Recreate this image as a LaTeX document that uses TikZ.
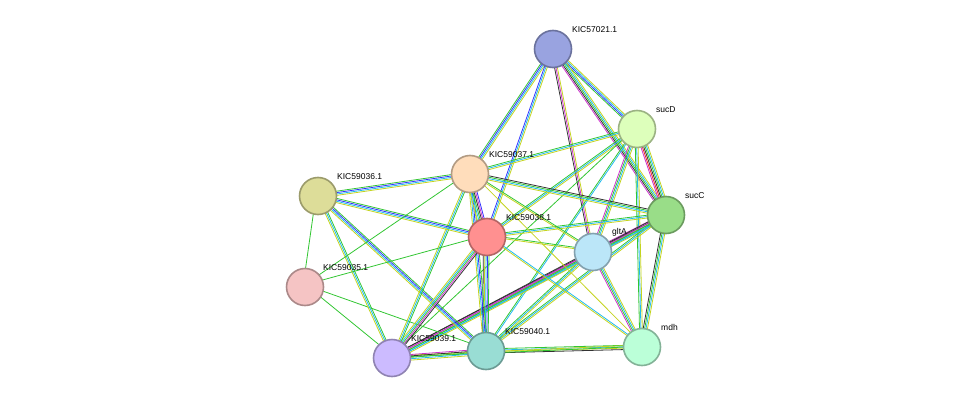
\documentclass[tikz,border=0pt]{standalone}
\usepackage{fontspec}
\setmainfont{Liberation Sans}
\usetikzlibrary{calc,backgrounds}
\definecolor{cgrn}{HTML}{33C633}
\definecolor{cblu}{HTML}{3333FF}
\definecolor{ccyn}{HTML}{22BBEE}
\definecolor{cyel}{HTML}{C4D420}
\definecolor{cpur}{HTML}{CC33CC}
\definecolor{cblk}{HTML}{333333}
\definecolor{cred}{HTML}{EE2222}
\tikzset{
  prot/.style={circle,draw=#1!70!black,line width=1.6pt,minimum size=37pt,inner sep=0pt},
  lbl/.style={font=\fontsize{8.5}{10}\selectfont,anchor=south west,inner sep=1pt}
}
% one link = several parallel coloured lines
\newcommand\lnk[3]{%
  \foreach \col [count=\k] in {#3} {
    \pgfmathsetmacro\off{(\k-2.5)*1.4}
    \draw[color=\col,line width=0.8pt] ($(#1)!\off pt!90:(#2)$) -- ($(#2)!\off pt!-90:(#1)$);
  }}
\begin{document}
\begin{tikzpicture}[x=1pt,y=-1pt]
  \useasboundingbox (0,0) rectangle (976,404);
  \definecolor{nA}{HTML}{99A3E0}\definecolor{nB}{HTML}{DDFFBB}
  \definecolor{nC}{HTML}{99DD88}\definecolor{nD}{HTML}{BBE6F8}
  \definecolor{nE}{HTML}{BBFFD8}\definecolor{nF}{HTML}{99DDD4}
  \definecolor{nG}{HTML}{CCBBFF}\definecolor{nH}{HTML}{F5C4C4}
  \definecolor{nI}{HTML}{DDDD99}\definecolor{nJ}{HTML}{FFDDBB}
  \definecolor{nK}{HTML}{FF9090}
  \node[prot=nA,fill=nA] (k57021) at (553,49)  {};
  \node[prot=nB,fill=nB] (sucD)   at (637,129) {};
  \node[prot=nC,fill=nC] (sucC)   at (666,215) {};
  \node[prot=nD,fill=nD] (gltA)   at (593,252) {};
  \node[prot=nE,fill=nE] (mdh)    at (642,347) {};
  \node[prot=nF,fill=nF] (k59040) at (486,351) {};
  \node[prot=nG,fill=nG] (k59039) at (392,358) {};
  \node[prot=nH,fill=nH] (k59035) at (305,287) {};
  \node[prot=nI,fill=nI] (k59036) at (318,196) {};
  \node[prot=nJ,fill=nJ] (k59037) at (470,174) {};
  \node[prot=nK,fill=nK] (k59038) at (487,237) {};
  % labels
  \node[lbl] at (571,34)  {KIC57021.1};
  \node[lbl] at (655,114) {sucD};
  \node[lbl] at (684,200) {sucC};
  \node[lbl] at (611,237) {gltA};
  \node[lbl] at (660,332) {mdh};
  \node[lbl] at (504,336) {KIC59040.1};
  \node[lbl] at (410,343) {KIC59039.1};
  \node[lbl] at (322,272) {KIC59035.1};
  \node[lbl] at (336,181) {KIC59036.1};
  \node[lbl] at (488,159) {KIC59037.1};
  \node[lbl] at (505,222) {KIC59038.1};
  \begin{scope}[on background layer]
    \lnk{k57021}{sucD}{cgrn,cblu,ccyn,cyel}
    \lnk{k57021}{sucC}{cpur,cblk,cgrn,ccyn,cyel}
    \lnk{k57021}{gltA}{cblk,cpur,cyel}
    \lnk{k57021}{k59037}{cgrn,cblu,ccyn,cyel}
    \lnk{k57021}{k59038}{cblu,ccyn,cyel}
    \lnk{sucD}{sucC}{cpur,cred,cblk,cgrn,ccyn,cyel}
    \lnk{sucD}{gltA}{cpur,cgrn,ccyn,cyel}
    \lnk{sucD}{mdh}{cgrn,ccyn,cyel}
    \lnk{sucD}{k59037}{cgrn,ccyn,cyel}
    \lnk{sucD}{k59038}{cgrn,ccyn,cyel}
    \lnk{sucD}{k59040}{cgrn,ccyn}
    \lnk{sucD}{k59039}{cgrn}
    \lnk{sucC}{gltA}{cpur,cblk,cgrn,ccyn,cyel}
    \lnk{sucC}{mdh}{cblk,cgrn,ccyn,cyel}
    \lnk{sucC}{k59037}{cblk,cgrn,ccyn,cyel}
    \lnk{sucC}{k59038}{cgrn,ccyn,cyel}
    \lnk{sucC}{k59040}{cgrn,ccyn,cyel}
    \lnk{sucC}{k59039}{cblk,cpur,cgrn,ccyn}
    \lnk{gltA}{mdh}{cpur,cgrn,ccyn,cyel}
    \lnk{gltA}{k59038}{cgrn,cyel}
    \lnk{gltA}{k59037}{cgrn,cyel}
    \lnk{gltA}{k59040}{cgrn,ccyn,cyel}
    \lnk{gltA}{k59039}{cblk,cpur,cgrn,ccyn,cyel}
    \lnk{mdh}{k59040}{cgrn,ccyn,cyel,cblk}
    \lnk{mdh}{k59039}{cyel,cgrn}
    \lnk{mdh}{k59038}{ccyn,cyel}
    \lnk{mdh}{k59037}{cyel}
    \lnk{k59040}{k59039}{cpur,cblk,cgrn,ccyn,cyel}
    \lnk{k59040}{k59038}{cgrn,cblu,ccyn,cyel,cblk}
    \lnk{k59040}{k59037}{cgrn,cblu,ccyn,cyel}
    \lnk{k59040}{k59036}{cgrn,cblu,ccyn,cyel}
    \lnk{k59040}{k59035}{cgrn}
    \lnk{k59039}{k59038}{cblk,cpur,cgrn,ccyn,cyel}
    \lnk{k59039}{k59037}{cgrn,ccyn,cyel}
    \lnk{k59039}{k59036}{cgrn,ccyn,cyel}
    \lnk{k59039}{k59035}{cgrn}
    \lnk{k59038}{k59037}{cblu,cpur,cblk,cgrn,ccyn,cyel}
    \lnk{k59038}{k59036}{cgrn,cblu,ccyn,cyel}
    \lnk{k59038}{k59035}{cgrn}
    \lnk{k59037}{k59036}{cgrn,cblu,ccyn,cyel}
    \lnk{k59037}{k59035}{cgrn}
    \lnk{k59036}{k59035}{cgrn}
  \end{scope}
\end{tikzpicture}
\end{document}
